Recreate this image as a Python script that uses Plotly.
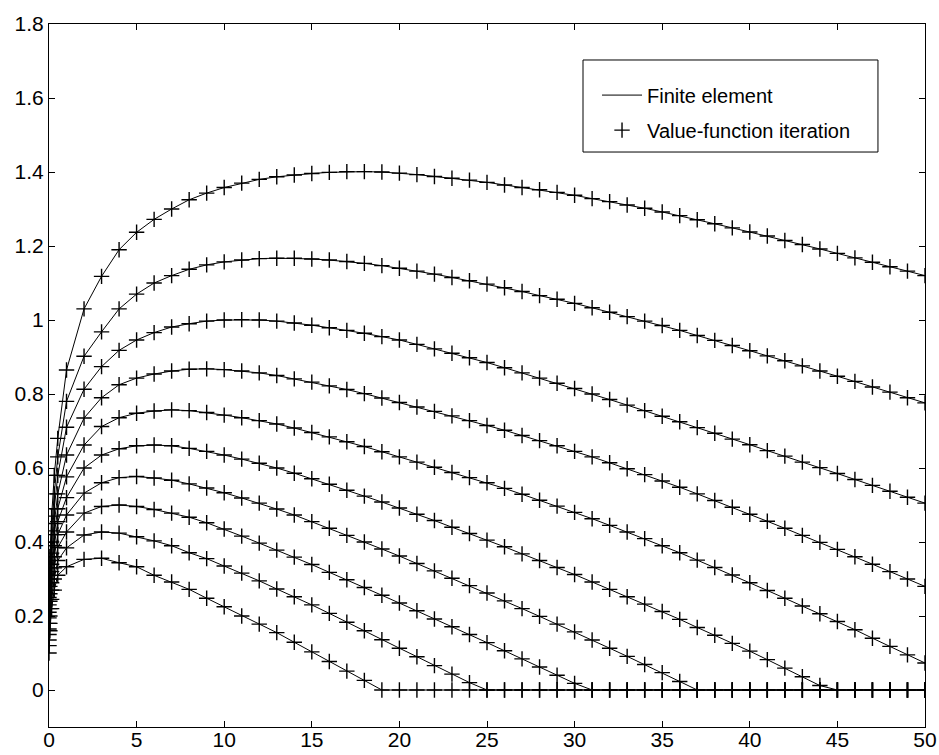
import plotly.graph_objects as go

# Grid of the state variable: a few refined points near zero, then unit steps
X_GRID = [0, 0.05, 0.15, 0.3, 0.5] + list(range(1, 51))

# Policy curves, one per level of the second state variable (top to bottom)
C1 = [0.25, 0.36, 0.47, 0.58, 0.68,
      0.865, 1.03, 1.118, 1.19, 1.237, 1.272, 1.30, 1.325, 1.343, 1.358,
      1.37, 1.38, 1.387, 1.392, 1.396, 1.399, 1.401, 1.401, 1.40, 1.397,
      1.393, 1.388, 1.383, 1.378, 1.372, 1.365, 1.358, 1.352, 1.345, 1.337,
      1.328, 1.32, 1.311, 1.302, 1.292, 1.282, 1.271, 1.26, 1.249, 1.238,
      1.227, 1.215, 1.204, 1.192, 1.18, 1.168, 1.156, 1.144, 1.132, 1.12]
C2 = [0.23, 0.33, 0.43, 0.53, 0.63,
      0.78, 0.902, 0.968, 1.03, 1.07, 1.10, 1.12, 1.137, 1.149, 1.157,
      1.162, 1.166, 1.167, 1.167, 1.165, 1.162, 1.158, 1.153, 1.147, 1.14,
      1.132, 1.124, 1.115, 1.106, 1.097, 1.087, 1.077, 1.066, 1.056, 1.045,
      1.033, 1.021, 1.009, 0.997, 0.985, 0.972, 0.958, 0.945, 0.931, 0.917,
      0.903, 0.89, 0.876, 0.862, 0.848, 0.834, 0.819, 0.805, 0.79, 0.776]
C3 = [0.21, 0.30, 0.40, 0.49, 0.58,
      0.71, 0.813, 0.874, 0.918, 0.946, 0.966, 0.981, 0.99, 0.997, 1.0,
      1.001, 1.0, 0.997, 0.992, 0.986, 0.979, 0.972, 0.964, 0.955, 0.946,
      0.934, 0.922, 0.91, 0.898, 0.885, 0.871, 0.857, 0.843, 0.829, 0.815,
      0.8, 0.785, 0.77, 0.755, 0.74, 0.725, 0.709, 0.694, 0.678, 0.663,
      0.647, 0.632, 0.616, 0.601, 0.585, 0.569, 0.553, 0.537, 0.521, 0.505]
C4 = [0.195, 0.28, 0.37, 0.45, 0.53,
      0.635, 0.735, 0.79, 0.825, 0.843, 0.854, 0.862, 0.867, 0.868, 0.866,
      0.862, 0.857, 0.85, 0.841, 0.832, 0.822, 0.812, 0.801, 0.789, 0.777,
      0.765, 0.753, 0.741, 0.728, 0.715, 0.702, 0.688, 0.674, 0.66, 0.645,
      0.63, 0.614, 0.598, 0.582, 0.565, 0.548, 0.53, 0.512, 0.494, 0.475,
      0.456, 0.437, 0.418, 0.399, 0.38, 0.36, 0.34, 0.32, 0.30, 0.28]
C5 = [0.18, 0.26, 0.34, 0.42, 0.49,
      0.576, 0.662, 0.712, 0.736, 0.748, 0.754, 0.757, 0.755, 0.75, 0.743,
      0.736, 0.728, 0.719, 0.708, 0.696, 0.684, 0.671, 0.658, 0.644, 0.63,
      0.616, 0.602, 0.588, 0.574, 0.56, 0.545, 0.529, 0.513, 0.497, 0.48,
      0.463, 0.445, 0.427, 0.409, 0.39, 0.371, 0.351, 0.331, 0.311, 0.29,
      0.269, 0.248, 0.227, 0.206, 0.185, 0.163, 0.14, 0.118, 0.095, 0.073]
C6 = [0.165, 0.24, 0.32, 0.39, 0.455,
      0.52, 0.60, 0.635, 0.652, 0.66, 0.662, 0.66, 0.653, 0.645, 0.635,
      0.624, 0.613, 0.60, 0.586, 0.571, 0.556, 0.54, 0.524, 0.508, 0.492,
      0.475, 0.458, 0.44, 0.423, 0.405, 0.387, 0.368, 0.35, 0.331, 0.312,
      0.292, 0.272, 0.252, 0.232, 0.212, 0.191, 0.169, 0.148, 0.126, 0.105,
      0.082, 0.059, 0.036, 0.012, 0.0, 0.0, 0.0, 0.0, 0.0, 0.0]
C7 = [0.15, 0.22, 0.29, 0.36, 0.42,
      0.473, 0.532, 0.56, 0.574, 0.577, 0.573, 0.567, 0.557, 0.546, 0.533,
      0.519, 0.505, 0.489, 0.473, 0.455, 0.437, 0.418, 0.40, 0.381, 0.362,
      0.342, 0.322, 0.302, 0.282, 0.262, 0.241, 0.22, 0.199, 0.178, 0.157,
      0.135, 0.113, 0.091, 0.069, 0.047, 0.023, 0.0, 0.0, 0.0, 0.0,
      0.0, 0.0, 0.0, 0.0, 0.0, 0.0, 0.0, 0.0, 0.0, 0.0]
C8 = [0.135, 0.20, 0.27, 0.33, 0.385,
      0.427, 0.478, 0.496, 0.50, 0.496, 0.488, 0.478, 0.467, 0.452, 0.435,
      0.416, 0.397, 0.378, 0.359, 0.339, 0.318, 0.298, 0.277, 0.256, 0.235,
      0.214, 0.192, 0.171, 0.15, 0.128, 0.106, 0.084, 0.062, 0.04, 0.018,
      0.0, 0.0, 0.0, 0.0, 0.0, 0.0, 0.0, 0.0, 0.0, 0.0,
      0.0, 0.0, 0.0, 0.0, 0.0, 0.0, 0.0, 0.0, 0.0, 0.0]
C9 = [0.12, 0.18, 0.245, 0.30, 0.35,
      0.384, 0.419, 0.427, 0.424, 0.414, 0.403, 0.39, 0.371, 0.355, 0.335,
      0.316, 0.295, 0.273, 0.252, 0.23, 0.207, 0.183, 0.16, 0.136, 0.113,
      0.09, 0.066, 0.043, 0.02, 0.0, 0.0, 0.0, 0.0, 0.0, 0.0,
      0.0, 0.0, 0.0, 0.0, 0.0, 0.0, 0.0, 0.0, 0.0, 0.0,
      0.0, 0.0, 0.0, 0.0, 0.0, 0.0, 0.0, 0.0, 0.0, 0.0]
C10 = [0.10, 0.16, 0.22, 0.27, 0.31,
       0.333, 0.353, 0.356, 0.344, 0.333, 0.31, 0.292, 0.272, 0.248, 0.225,
       0.20, 0.178, 0.155, 0.129, 0.103, 0.077, 0.051, 0.026, 0.0, 0.0,
       0.0, 0.0, 0.0, 0.0, 0.0, 0.0, 0.0, 0.0, 0.0, 0.0,
       0.0, 0.0, 0.0, 0.0, 0.0, 0.0, 0.0, 0.0, 0.0, 0.0,
       0.0, 0.0, 0.0, 0.0, 0.0, 0.0, 0.0, 0.0, 0.0, 0.0]

CURVES = [C1, C2, C3, C4, C5, C6, C7, C8, C9, C10]
for c in CURVES:
    assert len(c) == len(X_GRID), len(c)

X_TICKS = list(range(0, 51, 5))
Y_TICKS = [0, 0.2, 0.4, 0.6, 0.8, 1, 1.2, 1.4, 1.6, 1.8]
Y_TICK_TEXT = ["0", "0.2", "0.4", "0.6", "0.8", "1", "1.2", "1.4", "1.6", "1.8"]

LINE_NAME = "Finite element"
MARK_NAME = "Value-function iteration"

fig = go.Figure()

# Finite-element solution drawn as thin solid lines
for i, c in enumerate(CURVES):
    fig.add_trace(go.Scatter(
        x=X_GRID, y=c, mode="lines", name=LINE_NAME,
        line=dict(color="black", width=1),
        showlegend=(i == 0), legendgroup="fe", hoverinfo="skip"))

# Value-function iteration drawn as plus markers
for i, c in enumerate(CURVES):
    fig.add_trace(go.Scatter(
        x=X_GRID, y=c, mode="markers", name=MARK_NAME,
        marker=dict(symbol="cross-thin", size=11, color="black",
                    line=dict(color="black", width=1.4)),
        showlegend=(i == 0), legendgroup="vfi", hoverinfo="skip"))

axis_style = dict(
    showline=True, linecolor="black", linewidth=1, mirror="ticks",
    ticks="inside", ticklen=6, tickcolor="black", tickwidth=1,
    showgrid=False, zeroline=False, automargin=False,
    tickfont=dict(size=21, color="black"),
)

fig.update_xaxes(range=[0, 50], tickmode="array", tickvals=X_TICKS,
                 ticklabelstandoff=-6, **axis_style)
fig.update_yaxes(range=[-0.1, 1.8], tickmode="array", tickvals=Y_TICKS,
                 ticktext=Y_TICK_TEXT, **axis_style)

# Frame around the legend (wider than the legend's own box)
fig.add_shape(type="rect", xref="paper", yref="paper",
              x0=0.6096, x1=0.9463, y0=0.8179, y1=0.9488,
              line=dict(color="black", width=1), fillcolor="white", layer="above")

fig.update_layout(
    width=939, height=755,
    margin=dict(l=49, r=14, t=24, b=28, autoexpand=False),
    paper_bgcolor="white", plot_bgcolor="white",
    font=dict(family="Liberation Sans, Arial, Helvetica, sans-serif", size=20, color="black"),
    legend=dict(
        x=0.6256, xanchor="left", y=0.9488, yanchor="top",
        bgcolor="rgba(0,0,0,0)", borderwidth=0,
        font=dict(size=20), tracegroupgap=6, itemwidth=40,
        title=dict(text="&nbsp;", font=dict(size=12)),
    ),
)

fig.write_html("out.html")
